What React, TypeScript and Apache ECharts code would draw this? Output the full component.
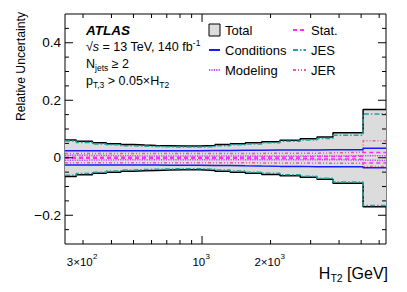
import React, { useEffect, useRef } from "react";
import * as echarts from "echarts";

// ---- data ----
const binEdges = [250, 280, 330, 380, 440, 500, 560, 630, 720, 840, 980, 1140, 1330, 1550, 1830, 2200, 2700, 3200, 3760, 5100, 6430];

const totalUp = [0.062, 0.057, 0.052, 0.049, 0.046, 0.044, 0.043, 0.042, 0.041, 0.041, 0.043, 0.046, 0.049, 0.052, 0.056, 0.061, 0.066, 0.072, 0.087, 0.168];
const totalDown = [-0.065, -0.059, -0.054, -0.05, -0.047, -0.045, -0.044, -0.043, -0.042, -0.042, -0.044, -0.047, -0.05, -0.054, -0.058, -0.063, -0.068, -0.075, -0.089, -0.17];

const jesUp = [0.058, 0.053, 0.048, 0.045, 0.042, 0.04, 0.039, 0.038, 0.037, 0.037, 0.039, 0.042, 0.045, 0.048, 0.052, 0.057, 0.062, 0.067, 0.078, 0.152];
const jesDown = [-0.061, -0.055, -0.05, -0.046, -0.043, -0.041, -0.04, -0.039, -0.038, -0.038, -0.04, -0.043, -0.046, -0.05, -0.054, -0.059, -0.064, -0.071, -0.084, -0.166];

const condUp = [0.024, 0.024, 0.024, 0.024, 0.024, 0.024, 0.024, 0.024, 0.024, 0.024, 0.025, 0.025, 0.026, 0.026, 0.027, 0.027, 0.027, 0.028, 0.028, 0.033];
const condDown = [-0.025, -0.025, -0.025, -0.025, -0.025, -0.025, -0.025, -0.026, -0.026, -0.026, -0.027, -0.027, -0.028, -0.029, -0.03, -0.03, -0.031, -0.031, -0.031, -0.035];

const modUp = [0.009, 0.008, 0.008, 0.007, 0.007, 0.006, 0.006, 0.006, 0.006, 0.006, 0.006, 0.006, 0.006, 0.006, 0.006, 0.006, 0.006, 0.006, 0.007, 0.007];
const modDown = [-0.009, -0.008, -0.008, -0.007, -0.007, -0.007, -0.007, -0.007, -0.007, -0.007, -0.007, -0.007, -0.007, -0.007, -0.007, -0.007, -0.007, -0.007, -0.008, -0.01];

const statUp = [0.002, 0.002, 0.002, 0.002, 0.002, 0.002, 0.002, 0.002, 0.002, 0.002, 0.002, 0.002, 0.002, 0.003, 0.003, 0.003, 0.004, 0.004, 0.005, 0.018];
const statDown = [-0.002, -0.002, -0.002, -0.002, -0.002, -0.002, -0.002, -0.002, -0.002, -0.002, -0.002, -0.002, -0.002, -0.003, -0.003, -0.003, -0.004, -0.004, -0.005, -0.018];

const jerUp = [0.015, 0.015, 0.015, 0.015, 0.015, 0.015, 0.015, 0.015, 0.015, 0.015, 0.015, 0.015, 0.015, 0.015, 0.016, 0.016, 0.016, 0.017, 0.019, 0.059];
const jerDown = [-0.017, -0.017, -0.017, -0.017, -0.017, -0.017, -0.017, -0.017, -0.017, -0.017, -0.017, -0.017, -0.017, -0.018, -0.018, -0.018, -0.018, -0.019, -0.019, -0.03];

// axis ticks / labels
const xMin = 250;
const xMax = 6430;
const yMin = -0.3;
const yMax = 0.5;
const xTickValues = [300, 400, 500, 600, 700, 800, 900, 1000, 2000, 3000, 4000, 5000, 6000];
const xMajorTicks = [1000];
const yTickValues = [-0.25, -0.2, -0.15, -0.1, -0.05, 0, 0.05, 0.1, 0.15, 0.2, 0.25, 0.3, 0.35, 0.4, 0.45];
const yMajorTicks = [-0.2, 0, 0.2, 0.4];
const xLabelValues = [300, 1000, 2000];
const xLabelMantissa = ["3×10", "10", "2×10"];
const xLabelExponent = ["2", "3", "3"];

const FONT = "'Liberation Sans', Arial, Helvetica, sans-serif";
const XLAB_SIZE = 11.5;
const XEXP_SIZE = 8;

let measureCtx: CanvasRenderingContext2D | null = null;
function textWidth(s: string, size: number) {
  if (!measureCtx) measureCtx = document.createElement("canvas").getContext("2d");
  if (!measureCtx) return s.length * size * 0.55;
  measureCtx.font = `${size}px ${FONT}`;
  return measureCtx.measureText(s).width;
}

function stepData(vals: number[]) {
  return binEdges.map((e, i) => [e, vals[Math.min(i, vals.length - 1)]]);
}

function compLine(name: string, vals: number[], color: string, width: number, type: any, z: number) {
  return {
    type: "line",
    name,
    data: stepData(vals),
    step: "end",
    symbol: "none",
    showSymbol: false,
    color,
    lineStyle: { color, width, type },
    z,
    silent: true,
  };
}

const COLORS = {
  cond: "#1a1aff",
  mod: "#b44cff",
  stat: "#ff2dff",
  jes: "#1fa3a3",
  jer: "#e0609e",
};

export default function App() {
  const ref = useRef<HTMLDivElement>(null);

  useEffect(() => {
    if (!ref.current) return;
    const chart = echarts.init(ref.current, undefined, { renderer: "svg" });

    const totalSeries = (vals: number[]) => ({
      type: "line",
      name: "Total",
      data: stepData(vals),
      step: "end",
      symbol: "none",
      showSymbol: false,
      color: "#dcdcdc",
      lineStyle: { color: "#000", width: 1.5 },
      areaStyle: { color: "#dcdcdc", opacity: 1 },
      z: 1,
      silent: true,
    });

    const tickData = [
      ...xTickValues.map((v) => [v, yMin, 0, xMajorTicks.includes(v) ? 8 : 4]),
      ...yTickValues.map((v) => [xMin, v, 1, yMajorTicks.includes(v) ? 8 : 4]),
    ];

    const lineItemStyle = { opacity: 0 };
    const legendText = { fontFamily: FONT, fontSize: 13, color: "#000", lineHeight: 14 };

    const option: any = {
      animation: false,
      grid: {
        left: 65,
        top: 14,
        width: 321,
        height: 230,
        show: true,
        borderColor: "#000",
        borderWidth: 1,
        backgroundColor: "transparent",
      },
      xAxis: {
        type: "log",
        logBase: 10,
        min: xMin,
        max: xMax,
        axisLine: { show: false },
        axisTick: { show: false },
        axisLabel: { show: false },
        splitLine: { show: false },
      },
      yAxis: {
        type: "value",
        min: yMin,
        max: yMax,
        interval: 0.05,
        axisLine: { show: false },
        axisTick: { show: false },
        splitLine: { show: false },
        axisLabel: {
          show: true,
          margin: 4,
          color: "#000",
          fontFamily: FONT,
          fontSize: 13.5,
          formatter: (v: number) => {
            const r = Math.round(v * 100);
            if (r % 20 !== 0 || r <= -30 || r >= 50) return "";
            if (r === 0) return "0";
            const s = (Math.abs(r) / 100).toFixed(1);
            return r < 0 ? "\u2212" + s : s;
          },
        },
      },
      legend: [
        {
          left: 208,
          top: 23,
          orient: "vertical",
          itemWidth: 11,
          itemHeight: 12,
          itemGap: 6,
          padding: 0,
          selectedMode: false,
          textStyle: legendText,
          data: [
            { name: "Total", icon: "rect", itemStyle: { color: "#dcdcdc", borderColor: "#000", borderWidth: 1 } },
            { name: "Conditions", itemStyle: lineItemStyle },
            { name: "Modeling", itemStyle: lineItemStyle },
          ],
        },
        {
          left: 292,
          top: 23,
          orient: "vertical",
          itemWidth: 13,
          itemHeight: 12,
          itemGap: 6,
          padding: 0,
          selectedMode: false,
          textStyle: legendText,
          data: [
            { name: "Stat.", itemStyle: lineItemStyle },
            { name: "JES", itemStyle: lineItemStyle },
            { name: "JER", itemStyle: lineItemStyle },
          ],
        },
      ],
      series: [
        totalSeries(totalUp),
        totalSeries(totalDown),
        compLine("JES", jesUp, COLORS.jes, 1.5, [5, 2, 1.5, 2], 3),
        compLine("JES", jesDown, COLORS.jes, 1.5, [5, 2, 1.5, 2], 3),
        compLine("JER", jerUp, COLORS.jer, 1.5, [3, 2, 1, 2, 1, 2], 4),
        compLine("JER", jerDown, COLORS.jer, 1.5, [3, 2, 1, 2, 1, 2], 4),
        compLine("Conditions", condUp, COLORS.cond, 1.5, "solid", 5),
        compLine("Conditions", condDown, COLORS.cond, 1.5, "solid", 5),
        compLine("Modeling", modUp, COLORS.mod, 1.5, [1.2, 1.2], 6),
        compLine("Modeling", modDown, COLORS.mod, 1.5, [1.2, 1.2], 6),
        compLine("Stat.", statUp, COLORS.stat, 1.5, [4, 3], 7),
        compLine("Stat.", statDown, COLORS.stat, 1.5, [4, 3], 7),
        {
          type: "custom",
          name: "ticks",
          silent: true,
          z: 20,
          dimensions: ["x", "y", "kind", "len"],
          encode: { x: 0, y: 1 },
          data: tickData,
          renderItem: (params: any, api: any) => {
            const cs = params.coordSys;
            const p = api.coord([api.value(0), api.value(1)]);
            const kind = api.value(2);
            const len = api.value(3);
            const st = { stroke: "#000", lineWidth: 1 };
            if (kind === 0) {
              const b = cs.y + cs.height;
              return {
                type: "group",
                children: [
                  { type: "line", shape: { x1: p[0], y1: b, x2: p[0], y2: b - len }, style: st },
                  { type: "line", shape: { x1: p[0], y1: cs.y, x2: p[0], y2: cs.y + len }, style: st },
                ],
              };
            }
            const r = cs.x + cs.width;
            return {
              type: "group",
              children: [
                { type: "line", shape: { x1: cs.x, y1: p[1], x2: cs.x + len, y2: p[1] }, style: st },
                { type: "line", shape: { x1: r, y1: p[1], x2: r - len, y2: p[1] }, style: st },
              ],
            };
          },
        },
        {
          type: "custom",
          name: "xlabels",
          silent: true,
          z: 20,
          encode: { x: 0, y: 1 },
          data: xLabelValues.map((v) => [v, yMin]),
          renderItem: (params: any, api: any) => {
            const cs = params.coordSys;
            const p = api.coord([api.value(0), api.value(1)]);
            const i = params.dataIndex;
            const base = xLabelMantissa[i];
            const exp = xLabelExponent[i];
            const bw = textWidth(base, XLAB_SIZE);
            const ew = textWidth(exp, XEXP_SIZE);
            const x0 = p[0] - (bw + ew) / 2 - 1;
            const yc = cs.y + cs.height + 17.5;
            return {
              type: "group",
              children: [
                {
                  type: "text",
                  x: x0,
                  y: yc,
                  style: { text: base, fontSize: XLAB_SIZE, fontFamily: FONT, fill: "#000", align: "left", verticalAlign: "middle" },
                },
                {
                  type: "text",
                  x: x0 + bw + 0.3,
                  y: yc - 5,
                  style: { text: exp, fontSize: XEXP_SIZE, fontFamily: FONT, fill: "#000", align: "left", verticalAlign: "middle" },
                },
              ],
            };
          },
        },
      ],
      graphic: [
        {
          type: "text",
          x: 21,
          y: 12,
          rotation: Math.PI / 2,
          silent: true,
          style: {
            text: "Relative Uncertainty",
            fontFamily: FONT,
            fontSize: 12.2,
            fill: "#000",
            align: "right",
            verticalAlign: "middle",
          },
        },
        {
          type: "text",
          x: 388,
          y: 273,
          silent: true,
          style: {
            text: "{b|H}{s|T2}{b| [GeV]}",
            align: "right",
            verticalAlign: "middle",
            rich: {
              b: { fontSize: 16, fontFamily: FONT, fill: "#000", lineHeight: 20, verticalAlign: "middle" },
              s: { fontSize: 10.5, fontFamily: FONT, fill: "#000", lineHeight: 10, verticalAlign: "bottom" },
            },
          },
        },
        {
          type: "text",
          x: 86,
          y: 30,
          silent: true,
          style: {
            text: "ATLAS",
            fontFamily: FONT,
            fontSize: 13.5,
            fontWeight: "bold",
            fontStyle: "italic",
            fill: "#000",
            verticalAlign: "middle",
          },
        },
        {
          type: "text",
          x: 86,
          y: 47,
          silent: true,
          style: {
            text: "{b|\u221A}{i|s}{b| = 13 TeV, 140 fb}{e|-1}",
            verticalAlign: "middle",
            rich: {
              b: { fontSize: 12.5, fontFamily: FONT, fill: "#000", lineHeight: 18, verticalAlign: "middle" },
              i: { fontSize: 12.5, fontFamily: FONT, fontStyle: "italic", fill: "#000", lineHeight: 18, verticalAlign: "middle" },
              e: { fontSize: 8.5, fontFamily: FONT, fill: "#000", lineHeight: 9, verticalAlign: "top" },
            },
          },
        },
        {
          type: "text",
          x: 86,
          y: 63.5,
          silent: true,
          style: {
            text: "{b|N}{s|jets}{b| \u2265 2}",
            verticalAlign: "middle",
            rich: {
              b: { fontSize: 12.5, fontFamily: FONT, fill: "#000", lineHeight: 18, verticalAlign: "middle" },
              s: { fontSize: 8.5, fontFamily: FONT, fill: "#000", lineHeight: 9, verticalAlign: "bottom" },
            },
          },
        },
        {
          type: "text",
          x: 86,
          y: 80.5,
          silent: true,
          style: {
            text: "{b|p}{s|T,3}{b| > 0.05\u00D7H}{s|T2}",
            verticalAlign: "middle",
            rich: {
              b: { fontSize: 12.5, fontFamily: FONT, fill: "#000", lineHeight: 18, verticalAlign: "middle" },
              s: { fontSize: 8.5, fontFamily: FONT, fill: "#000", lineHeight: 9, verticalAlign: "bottom" },
            },
          },
        },
      ],
    };

    chart.setOption(option);
    return () => {
      chart.dispose();
    };
  }, []);

  return (
    <div
      ref={ref}
      style={{ position: "absolute", left: 0, top: 0, width: 407, height: 292, background: "#fff" }}
    />
  );
}
